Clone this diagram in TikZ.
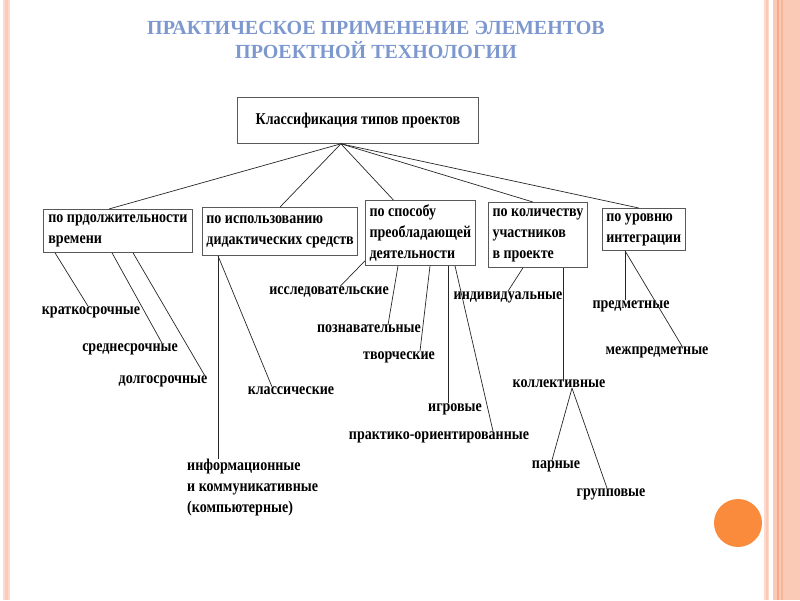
\documentclass[tikz,border=0pt]{standalone}
\usepackage{fontspec}
\setmainfont{Liberation Serif}
\newfontfamily\diagfont{Liberation Serif}[FakeStretch=0.85]
\usepackage{xcolor}
\definecolor{titleblue}{RGB}{125,152,206}
\definecolor{stripe}{RGB}{251,202,183}
\definecolor{stripedark}{RGB}{245,172,142}
\definecolor{stripelight}{RGB}{253,218,205}
\definecolor{dotorange}{RGB}{250,138,60}

\begin{document}
\begin{tikzpicture}[x=1pt,y=-1pt,
  every node/.style={font=\diagfont\bfseries\fontsize{16.5}{21}\selectfont, inner sep=0pt},
  typebox/.style={draw=black!65, line width=0.8pt, align=left, anchor=north west, inner xsep=4pt},
  leaf/.style={anchor=center},
  link/.style={line width=0.7pt, black!85}]

\useasboundingbox (0,0) rectangle (800,600);

% slide frame
\fill[stripelight] (3,0) rectangle (10,600);
\fill[stripe] (5,0) rectangle (8,600);
\fill[stripelight] (764,0) rectangle (769,600);
\fill[stripe] (766,0) rectangle (767.5,600);
\fill[stripe] (773,0) rectangle (800,600);
\fill[stripedark] (777,0) rectangle (779,600);
\fill[stripedark!70!stripe] (781,0) rectangle (782.5,600);
\fill[dotorange] (738,523) circle (24pt);

\node[font=\bfseries\fontsize{20}{24}\selectfont, text=titleblue, align=center] (title) at (376,40)
  {ПРАКТИЧЕСКОЕ ПРИМЕНЕНИЕ ЭЛЕМЕНТОВ\\ПРОЕКТНОЙ ТЕХНОЛОГИИ};

\node[typebox, align=center, minimum width=241pt, minimum height=46pt] (root) at (237,97) {Классификация типов проектов};
\coordinate (hub) at ([xshift=-17pt]root.south);

\node[typebox, minimum width=149pt, minimum height=43pt] (dur) at (43,209) {по прдолжительности\\времени};
\node[typebox, minimum width=153pt, minimum height=48pt] (aid) at (202,207) {по использованию\\дидактических средств};
\node[typebox, minimum width=110pt, minimum height=65pt] (act) at (365,200) {по способу\\преобладающей\\деятельности};
\node[typebox, minimum width=99pt, minimum height=65pt] (num) at (488,202) {по количеству\\участников\\в проекте};
\node[typebox, minimum width=81pt, minimum height=42pt] (lvl) at (602,208) {по уровню\\интеграции};

\draw[link] (hub) -- ([xshift=-9pt]dur.north);
\draw[link] (hub) -- (aid.north);
\draw[link] (hub) -- ([xshift=-27pt]act.north);
\draw[link] (hub) -- ([xshift=-5pt]num.north);
\draw[link] (hub) -- ([xshift=-5pt]lvl.north);

% duration
\node[leaf] (krat) at (91,312) {краткосрочные};
\node[leaf] (sred) at (130,349) {среднесрочные};
\node[leaf] (dolg) at (163,381) {долгосрочные};
\draw[link] ([xshift=12pt]dur.south west) -- ([xshift=-3pt]krat.north);
\draw[link] ([xshift=69pt]dur.south west) -- ([xshift=32pt]sred.north);
\draw[link] ([xshift=90pt]dur.south west) -- ([xshift=-3pt]dolg.north east);

% didactic means
\node[leaf, align=left, anchor=north west] (info) at (187,459) {информационные\\и коммуникативные\\(компьютерные)};
\node[leaf] (klass) at (291,391) {классические};
\draw[link] ([xshift=16pt]aid.south west) -- ([xshift=31pt]info.north west);
\draw[link] ([xshift=16pt]aid.south west) -- ([xshift=-19pt]klass.north);

% activity
\node[leaf] (issl) at (329,292) {исследовательские};
\node[leaf] (pozn) at (369,329) {познавательные};
\node[leaf] (tvor) at (399,357) {творческие};
\node[leaf] (igr) at (455,409) {игровые};
\node[leaf] (prak) at (439,437) {практико-ориентированные};
\draw[link] ([yshift=5pt]act.south west) -- ([xshift=11pt]issl.north);
\draw[link] ([xshift=33pt]act.south west) -- ([xshift=19pt]pozn.north);
\draw[link] ([xshift=65pt]act.south west) -- ([xshift=21pt]tvor.north);
\draw[link] ([xshift=83pt]act.south west) -- ([xshift=-7pt]igr.north);
\draw[link] ([xshift=90pt]act.south west) -- ([xshift=54pt]prak.north);

% participants
\node[leaf] (indiv) at (508,297) {индивидуальные};
\node[leaf] (koll) at (559,384) {коллективные};
\node[leaf] (parn) at (556,466) {парные};
\node[leaf] (grup) at (611,494) {групповые};
\draw[link] ([xshift=35pt]num.south west) -- (indiv.north);
\draw[link] ([xshift=75pt]num.south west) -- ([xshift=4pt]koll.north);
\draw[link] ([xshift=13pt]koll.south) -- ([xshift=-4pt]parn.north);
\draw[link] ([xshift=13pt]koll.south) -- ([xshift=-4pt]grup.north);

% integration
\node[leaf] (pred) at (631,306) {предметные};
\node[leaf] (mezh) at (657,352) {межпредметные};
\draw[link] ([xshift=23pt]lvl.south west) -- ([xshift=-6pt]pred.north);
\draw[link] ([xshift=23pt]lvl.south west) -- ([xshift=25pt]mezh.north);

\end{tikzpicture}
\end{document}
